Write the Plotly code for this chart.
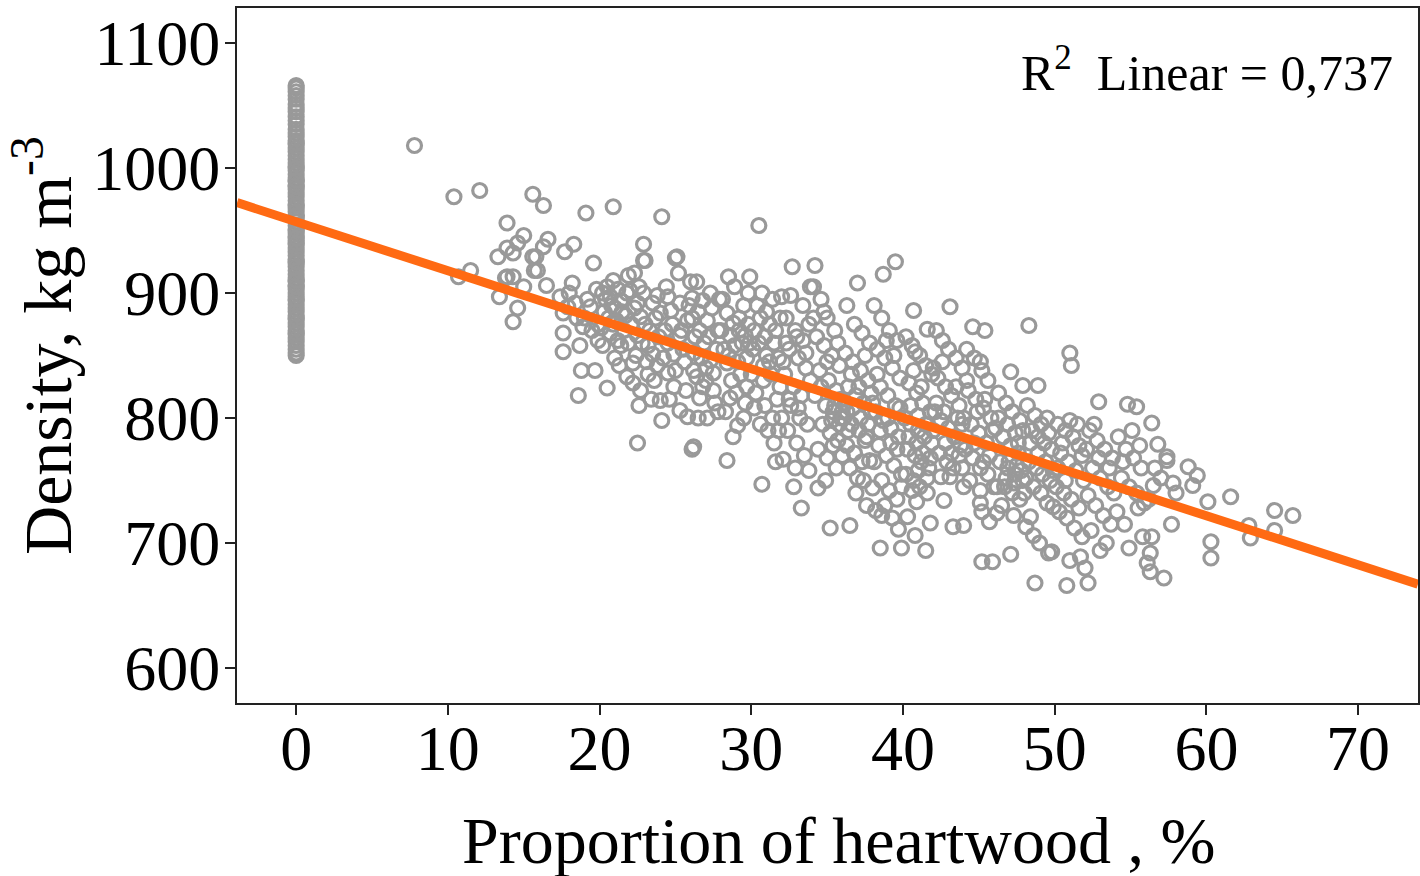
import plotly.graph_objects as go

# ---- data ----
# group with no heartwood (x = 0)
zero_density = [1066, 1064, 1061, 1058, 1055, 1051, 1048, 1045, 1041, 1038, 1035, 1031, 1028, 1025,
                1022, 1019, 1016, 1013, 1010, 1007, 1004, 1001, 998, 995, 992, 989, 986, 983, 980,
                977, 974, 971, 968, 965, 962, 960, 957, 954, 951, 948, 945, 942, 939, 936, 933,
                930, 927, 924, 921, 918, 915, 912, 909, 906, 903, 900, 897, 894, 891, 888, 885,
                882, 879, 876, 873, 870, 867, 864, 861, 858, 855, 852, 850, 1000, 990, 970, 950,
                940, 925, 910, 895, 880, 868, 1020, 985, 962, 944, 905]

scatter_points = [
    # 7-18 %
    (7.8, 1018), (10.4, 977), (12.1, 982), (15.6, 979), (16.3, 970), (13.9, 956), (15.0, 946),
    (14.6, 940), (13.9, 936), (13.3, 929), (16.6, 943), (16.3, 937), (15.6, 929), (15.7, 918),
    (16.5, 906), (11.5, 918), (10.7, 913), (13.9, 913), (14.3, 913), (13.4, 897), (14.6, 888),
    (14.3, 877), (14.3, 932), (15.8, 929), (15.9, 918), (13.8, 912), (15.0, 905),
    # 18-20 %
    (19.1, 964), (18.2, 908), (17.7, 933), (18.3, 939), (19.6, 924), (17.6, 884), (17.6, 868),
    (17.6, 853), (18.8, 838), (19.7, 838), (18.6, 818), (17.9, 889), (17.4, 897), (18.9, 873),
    (19.4, 889), (19.9, 862), (18.5, 880), (19.2, 895), (18.0, 900), (19.5, 870), (18.7, 858),
    (19.8, 903), (19.0, 880), (18.4, 892), (19.9, 875),
    # 20-22 %
    (20.9, 969), (20.2, 858), (21.2, 862), (21.4, 858), (20.7, 868), (20.5, 905), (20.9, 910),
    (20.7, 897), (21.4, 894), (21.8, 900), (21.9, 914), (21.0, 848), (21.8, 833), (22.2, 828),
    (20.5, 824), (20.3, 885), (20.8, 890), (21.1, 878), (21.6, 870), (21.5, 885), (20.4, 895),
    (21.2, 903), (20.6, 880), (21.9, 860), (20.1, 872), (21.3, 842), (20.9, 875), (21.7, 882),
    (20.2, 900), (21.0, 888),
    # 22-24 %
    (22.9, 939), (22.9, 926), (22.3, 916), (23.0, 926), (22.5, 892), (22.7, 881), (23.5, 892),
    (22.0, 902), (22.9, 900), (22.2, 844), (22.5, 866), (23.2, 858), (23.5, 851), (23.8, 842),
    (22.7, 822), (22.5, 780), (23.3, 870), (22.1, 875), (23.7, 880), (22.8, 860), (23.1, 845),
    (23.9, 865), (22.4, 850), (23.6, 830), (22.6, 810), (23.4, 815), (23.0, 875), (22.3, 888),
    (23.8, 898), (22.6, 905), (23.2, 835),
    # 24-26 %
    (24.1, 961), (25.0, 928), (25.1, 929), (25.2, 916), (24.0, 884), (24.7, 886), (25.3, 892),
    (24.5, 897), (25.3, 866), (24.5, 860), (24.9, 851), (24.5, 836), (24.0, 814), (24.1, 798),
    (25.3, 806), (25.8, 801), (24.9, 825), (26.1, 775), (25.6, 845), (24.3, 870), (25.8, 878),
    (25.5, 855), (24.8, 875), (25.9, 890), (24.2, 848), (25.0, 838), (25.7, 822), (24.6, 815),
    (25.4, 870), (24.4, 905),
    # 26-28 %
    (26.0, 909), (26.4, 909), (26.8, 894), (26.1, 896), (27.1, 878), (26.6, 870), (26.2, 852),
    (27.3, 846), (26.4, 833), (27.5, 836), (26.2, 838), (27.5, 822), (27.1, 800), (26.6, 816),
    (26.2, 777), (26.9, 860), (27.7, 855), (26.5, 885), (27.4, 888), (27.8, 870), (26.3, 865),
    (27.0, 840), (27.6, 812), (26.8, 825), (27.2, 865), (26.7, 848), (27.9, 895), (27.3, 900),
    (26.1, 880), (27.0, 830), (27.8, 805), (26.5, 800),
    # 28-30 %
    (28.5, 913), (29.9, 913), (28.4, 884), (28.8, 876), (28.0, 870), (28.6, 866), (28.4, 844),
    (28.6, 816), (29.1, 794), (28.4, 766), (29.5, 890), (29.2, 870), (28.9, 858), (29.7, 848),
    (29.3, 835), (28.2, 855), (29.8, 875), (29.0, 820), (29.6, 812), (28.7, 830), (29.4, 860),
    (28.1, 895), (29.8, 900), (28.9, 905), (29.1, 845), (29.7, 825), (28.3, 805), (29.5, 800),
    (28.8, 785), (29.9, 860), (28.5, 850), (29.2, 880), (29.6, 866),
    # 30-32 %
    (30.5, 954), (30.7, 747), (31.6, 765), (32.0, 897), (30.2, 870), (30.6, 880), (30.9, 865),
    (31.2, 875), (30.4, 890), (31.0, 885), (31.5, 860), (31.8, 848), (30.1, 855), (30.8, 842),
    (31.3, 835), (31.9, 825), (30.3, 820), (30.9, 810), (31.4, 800), (31.7, 815), (30.6, 795),
    (31.1, 790), (30.0, 835), (31.6, 870), (31.4, 895), (30.7, 900), (31.9, 880), (30.2, 808),
    (31.0, 850), (31.8, 790), (30.5, 860), (31.2, 845), (30.8, 830), (31.5, 780),
    # 32-34 %
    (32.7, 921), (32.1, 767), (32.8, 745), (33.3, 728), (32.3, 880), (32.9, 870), (33.4, 862),
    (33.8, 875), (32.5, 855), (33.1, 848), (33.6, 840), (32.2, 835), (32.8, 825), (33.3, 818),
    (33.9, 830), (32.6, 810), (33.2, 800), (33.7, 795), (32.4, 790), (33.0, 780), (33.5, 770),
    (32.9, 760), (33.8, 758), (32.1, 845), (33.4, 890), (32.6, 898), (33.9, 905), (32.3, 860),
    (33.1, 808), (33.6, 852), (32.5, 815), (33.0, 865), (32.0, 800),
    # 34-36 %
    (34.2, 922), (34.4, 744), (35.2, 712), (34.1, 905), (34.6, 895), (35.0, 880), (35.5, 870),
    (34.3, 865), (34.8, 858), (35.3, 850), (35.8, 842), (34.5, 838), (35.1, 830), (35.6, 822),
    (34.2, 818), (34.9, 810), (35.4, 805), (35.9, 800), (34.7, 795), (35.2, 788), (35.7, 782),
    (34.4, 775), (35.0, 768), (35.6, 760), (34.9, 750), (35.9, 815), (35.5, 810), (35.8, 795),
    (36.0, 805), (35.3, 798), (34.6, 825), (35.0, 845), (34.1, 880), (35.7, 860), (34.8, 885),
    (35.4, 778),
    # 36-38 %
    (37.0, 908), (37.5, 782), (37.8, 766), (37.4, 750), (38.0, 744), (36.5, 714), (36.3, 890),
    (36.8, 875), (37.3, 868), (37.8, 860), (36.2, 852), (36.7, 845), (37.2, 838), (37.7, 830),
    (36.4, 825), (36.9, 818), (37.4, 812), (37.9, 805), (36.1, 800), (36.6, 795), (37.1, 790),
    (37.6, 785), (36.3, 778), (36.8, 772), (37.3, 765), (36.5, 760), (37.0, 752), (36.9, 740),
    (37.6, 730), (36.2, 812), (36.7, 808), (37.2, 800), (36.4, 790), (37.9, 820), (36.6, 835),
    (37.5, 850), (36.0, 770), (37.1, 825), (37.7, 795), (36.3, 805),
    # 38-40 %
    (39.5, 925), (38.7, 915), (38.5, 696), (39.9, 696), (39.7, 711), (38.6, 722), (38.2, 726),
    (39.9, 745), (38.1, 890), (38.6, 880), (39.1, 870), (39.6, 862), (38.3, 855), (38.8, 848),
    (39.3, 840), (39.8, 832), (38.5, 825), (39.0, 818), (39.5, 810), (38.2, 805), (38.7, 798),
    (39.2, 792), (39.7, 785), (38.4, 778), (38.9, 770), (39.4, 762), (39.9, 755), (38.6, 750),
    (39.1, 742), (39.6, 735), (38.8, 730), (39.3, 720), (38.0, 812), (38.5, 790), (39.0, 800),
    (39.8, 808), (38.3, 835), (39.4, 850), (38.9, 862), (39.6, 775), (38.1, 765), (39.2, 780),
    # 40-42 %
    (40.8, 853), (41.6, 871), (40.7, 886), (40.6, 742), (40.9, 733), (40.8, 706), (41.5, 694),
    (41.8, 716), (40.3, 721), (40.2, 865), (40.6, 858), (41.1, 850), (41.5, 842), (41.9, 835),
    (40.4, 828), (40.9, 820), (41.3, 812), (41.8, 805), (40.1, 800), (40.5, 795), (41.0, 790),
    (41.4, 785), (41.9, 780), (40.3, 775), (40.8, 770), (41.2, 765), (41.7, 760), (40.2, 755),
    (40.7, 750), (41.1, 745), (41.6, 740), (40.5, 810), (41.0, 802), (41.5, 795), (40.9, 780),
    (41.3, 772), (41.8, 768), (40.4, 785), (41.2, 825), (40.7, 838), (41.6, 752), (42.0, 790),
    (41.0, 758),
    # 42-44 %
    (43.1, 889), (42.7, 734), (42.5, 753), (43.1, 753), (43.3, 713), (44.0, 714), (44.0, 745),
    (42.2, 870), (42.6, 862), (43.0, 855), (43.5, 848), (43.9, 840), (42.3, 832), (42.8, 825),
    (43.2, 818), (43.7, 810), (42.1, 805), (42.5, 798), (43.0, 792), (43.4, 785), (43.8, 778),
    (42.4, 772), (42.9, 765), (43.3, 760), (43.7, 770), (42.2, 812), (42.7, 805), (43.6, 800),
    (42.8, 780), (43.5, 825), (42.0, 840), (43.9, 795), (42.6, 845), (43.2, 772), (43.9, 760),
    # 44-46 %
    (44.6, 873), (45.4, 870), (45.1, 845), (45.2, 685), (45.9, 685), (45.7, 717), (45.2, 725),
    (45.1, 742), (46.0, 745), (45.1, 732), (44.2, 855), (44.7, 848), (45.2, 838), (45.6, 830),
    (44.3, 822), (44.8, 815), (45.3, 808), (45.8, 800), (44.5, 795), (45.0, 788), (45.5, 780),
    (44.1, 775), (44.6, 768), (45.1, 760), (45.6, 755), (44.4, 750), (44.9, 805), (45.4, 815),
    (44.2, 830), (45.9, 790), (44.7, 780), (45.7, 770), (44.0, 800), (45.3, 765),
    # 46-48 %
    (47.1, 837), (48.9, 826), (47.9, 826), (47.1, 691), (46.2, 724), (47.3, 722), (46.2, 745),
    (48.1, 713), (46.3, 820), (46.8, 812), (47.2, 805), (47.7, 798), (46.1, 792), (46.6, 785),
    (47.1, 778), (47.6, 772), (46.4, 765), (46.9, 760), (47.4, 755), (47.9, 750), (46.7, 745),
    (47.2, 740), (47.7, 735), (46.5, 730), (47.0, 765), (47.5, 762), (47.8, 758), (46.8, 752),
    (47.3, 748), (47.6, 780), (46.3, 800), (47.9, 790), (46.9, 795), (47.4, 788),
    # 48-50 %
    (48.3, 874), (48.7, 668), (49.6, 692), (49.0, 700), (48.6, 706), (48.4, 721), (49.5, 732),
    (49.9, 729), (49.8, 693), (48.2, 810), (48.7, 802), (49.1, 795), (49.6, 788), (48.4, 780),
    (48.9, 772), (49.4, 765), (49.9, 758), (48.1, 752), (48.6, 745), (49.1, 740), (49.7, 750),
    (48.3, 765), (48.8, 760), (49.3, 780), (48.5, 790), (49.8, 775), (48.0, 740), (49.2, 755),
    (48.9, 785), (49.5, 800),
    # 50-52 %
    (51.0, 852), (51.1, 842), (50.8, 666), (51.0, 686), (51.7, 689), (52.0, 680), (52.2, 668),
    (50.2, 795), (50.7, 790), (51.2, 785), (51.6, 778), (50.4, 772), (50.9, 765), (51.4, 758),
    (51.9, 750), (50.1, 745), (50.6, 740), (51.1, 735), (51.6, 728), (50.3, 725), (50.8, 720),
    (51.3, 712), (51.8, 705), (50.5, 780), (51.5, 795), (50.2, 760), (51.0, 798), (51.8, 770),
    (50.7, 750),
    # 52-54 %
    (52.9, 813), (53.0, 694), (52.3, 790), (52.8, 782), (53.3, 775), (53.8, 768), (52.5, 760),
    (53.0, 752), (53.5, 745), (52.2, 738), (52.7, 730), (53.2, 722), (53.7, 715), (52.4, 710),
    (53.4, 700), (52.1, 775), (53.6, 760), (52.6, 795), (53.9, 740), (52.9, 768),
    # 54-56 %
    (54.8, 811), (55.4, 809), (54.9, 696), (54.6, 715), (55.5, 728), (54.2, 785), (54.7, 775),
    (55.2, 768), (55.7, 760), (54.4, 752), (54.9, 745), (55.4, 740), (55.9, 732), (54.1, 725),
    (55.1, 790), (55.6, 778), (54.5, 765), (55.8, 705),
    # 56-58 %
    (56.4, 796), (56.8, 779), (57.4, 769), (57.4, 766), (57.7, 715), (56.5, 746), (58.0, 740),
    (56.4, 705), (56.3, 692), (56.1, 684), (56.3, 677), (57.2, 672), (56.6, 760), (57.0, 752),
    (57.8, 748), (56.2, 735),
    # > 58 %
    (58.8, 761), (59.4, 754), (59.1, 746), (61.6, 737), (60.1, 733), (64.5, 726), (65.7, 722),
    (62.8, 714), (62.9, 704), (64.5, 710), (60.3, 701), (60.3, 688),
]

heartwood_pct = [0.0] * len(zero_density) + [p[0] for p in scatter_points]
density = zero_density + [p[1] for p in scatter_points]

# linear fit
fit_intercept = 957.0
fit_slope = -3.92
r2_text = "R<sup>2</sup>  Linear = 0,737"

x_range = [-3.9, 73.95]
y_range = [572, 1128]
x_ticks = [0, 10, 20, 30, 40, 50, 60, 70]
y_ticks = [600, 700, 800, 900, 1000, 1100]

FONT = "Liberation Serif, Times New Roman, serif"

fig = go.Figure()
fig.add_trace(go.Scatter(
    x=heartwood_pct, y=density, mode="markers",
    marker=dict(symbol="circle-open", size=14, color="#999999", line=dict(width=3.2)),
    showlegend=False, hoverinfo="skip",
))
fit_x = x_range
fit_y = [fit_intercept + fit_slope * v for v in fit_x]
fig.add_trace(go.Scatter(
    x=fit_x, y=fit_y, mode="lines",
    line=dict(color="#ff6a13", width=9),
    showlegend=False, hoverinfo="skip",
))

fig.add_annotation(
    text=r2_text, xref="paper", yref="paper", x=0.9805, y=0.912,
    xanchor="right", yanchor="middle", showarrow=False,
    font=dict(family=FONT, size=50, color="black"),
)
fig.add_annotation(
    text="Proportion of heartwood , %", xref="paper", yref="paper", x=0.509, y=-0.198,
    xanchor="center", yanchor="middle", showarrow=False,
    font=dict(family=FONT, size=66, color="black"),
)
fig.add_annotation(
    text="Density, kg m<sup>-3</sup>", xref="paper", yref="paper", x=-0.1635, y=0.515,
    xanchor="center", yanchor="middle", showarrow=False, textangle=-90,
    font=dict(family=FONT, size=68, color="black"),
)

axis_common = dict(
    showgrid=False, zeroline=False, showline=True, linecolor="#222222", linewidth=2,
    mirror=True, ticks="outside", ticklen=10, tickwidth=2, tickcolor="#222222",
    tickfont=dict(family=FONT, size=64, color="black"), automargin=False,
)

fig.update_layout(
    width=1420, height=876,
    margin=dict(l=237, r=2, t=8, b=173),
    paper_bgcolor="white", plot_bgcolor="white",
    xaxis=dict(range=x_range, tickvals=x_ticks, ticklabelstandoff=-22, **axis_common),
    yaxis=dict(range=y_range, tickvals=y_ticks, ticklabelstandoff=-8, **axis_common),
)

fig.write_html(
    "out.html",
    config={"displayModeBar": False},
    post_script="document.body.style.margin='0px';document.body.style.overflow='hidden';",
)
